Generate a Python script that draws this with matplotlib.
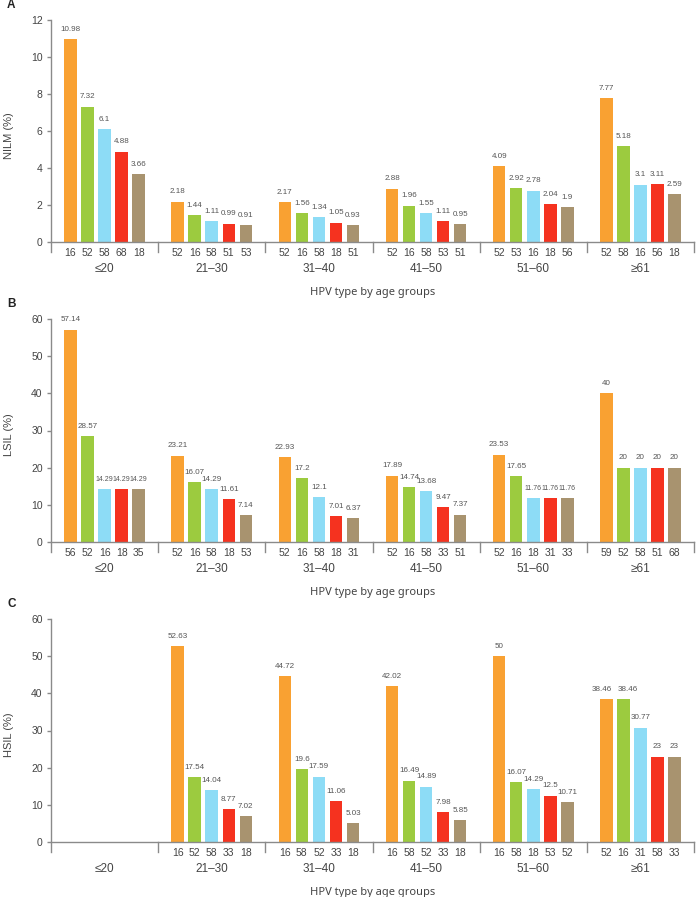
import matplotlib
matplotlib.use('Agg')
import matplotlib.pyplot as plt
import matplotlib.transforms as mtransforms

plt.rcParams['font.family'] = ['Liberation Sans', 'DejaVu Sans']

age_groups = ['≤20', '21–30', '31–40', '41–50', '51–60', '≥61']
bar_colors = ['#F9A132', '#9CCB3F', '#8DDCF6', '#F5321F', '#A8936F']

# NILM
nilm_types = [[16, 52, 58, 68, 18], [52, 16, 58, 51, 53], [52, 16, 58, 18, 51],
              [52, 16, 58, 53, 51], [52, 53, 16, 18, 56], [52, 58, 16, 56, 18]]
nilm_values = [[10.98, 7.32, 6.1, 4.88, 3.66], [2.18, 1.44, 1.11, 0.99, 0.91],
               [2.17, 1.56, 1.34, 1.05, 0.93], [2.88, 1.96, 1.55, 1.11, 0.95],
               [4.09, 2.92, 2.78, 2.04, 1.9], [7.77, 5.18, 3.1, 3.11, 2.59]]

# LSIL
lsil_types = [[56, 52, 16, 18, 35], [52, 16, 58, 18, 53], [52, 16, 58, 18, 31],
              [52, 16, 58, 33, 51], [52, 16, 18, 31, 33], [59, 52, 58, 51, 68]]
lsil_values = [[57.14, 28.57, 14.29, 14.29, 14.29], [23.21, 16.07, 14.29, 11.61, 7.14],
               [22.93, 17.2, 12.1, 7.01, 6.37], [17.89, 14.74, 13.68, 9.47, 7.37],
               [23.53, 17.65, 11.76, 11.76, 11.76], [40, 20, 20, 20, 20]]

# HSIL (no data for <=20)
hsil_types = [[], [16, 52, 58, 33, 18], [16, 58, 52, 33, 18],
              [16, 58, 52, 33, 18], [16, 58, 18, 53, 52], [52, 16, 31, 58, 33]]
hsil_values = [[], [52.63, 17.54, 14.04, 8.77, 7.02], [44.72, 19.6, 17.59, 11.06, 5.03],
               [42.02, 16.49, 14.89, 7.98, 5.85], [50, 16.07, 14.29, 12.5, 10.71],
               [38.46, 38.46, 30.77, 23, 23]]

W, H = 698, 897
fig = plt.figure(figsize=(W / 100, H / 100), dpi=100)

AXIS_COLOR = '#8a8a8a'
TEXT_COLOR = '#444444'
PITCH = 0.159
WIDTH = 0.117


def fmt(v):
    return ('%g' % v)


def draw_panel(top_px, bottom_px, letter, ylabel, ymax, ystep, types, values):
    ax = fig.add_axes([51 / W, 1 - bottom_px / H, 643 / W, (bottom_px - top_px) / H])
    ax.set_xlim(-0.5, len(age_groups) - 0.5)
    ax.set_ylim(0, ymax)
    for s in ['top', 'right', 'left']:
        ax.spines[s].set_visible(False)
    ax.spines['bottom'].set_color(AXIS_COLOR)
    ax.spines['bottom'].set_linewidth(1)

    xticks, xlabels = [], []
    for g, (tps, vals) in enumerate(zip(types, values)):
        n = len(vals)
        for j, (t, v) in enumerate(zip(tps, vals)):
            x = g + (j - (n - 1) / 2) * PITCH
            ax.bar(x, v, width=WIDTH, color=bar_colors[j], linewidth=0)
            label = fmt(v)
            size, dx = 5.8, 0
            if len(label) == 5 and vals.count(v) >= 3:
                size = 5.0
            elif len(label) == 5 and vals.count(v) == 2:
                # spread a tied pair of long labels apart
                dx = 3.5 if (j > 0 and vals[j - 1] == v) else -3.5
            ax.annotate(label, (x, v), xytext=(dx, 4.5), textcoords='offset points',
                        ha='center', va='bottom', fontsize=size, color='#555555')
            xticks.append(x)
            xlabels.append(str(t))
        ax.annotate(age_groups[g], (g, 0), xycoords=('data', 'axes fraction'),
                    xytext=(0, -19.5), textcoords='offset points',
                    ha='center', va='center', fontsize=8.5, color=TEXT_COLOR)

    ax.set_xticks(xticks)
    ax.set_xticklabels(xlabels)
    ax.tick_params(axis='x', length=0, pad=4.5, labelsize=7.5, labelcolor=TEXT_COLOR)
    ax.set_yticks(range(0, ymax + 1, ystep))
    ax.tick_params(axis='y', length=3, width=1, color=AXIS_COLOR, pad=3,
                   labelsize=7.5, labelcolor=TEXT_COLOR)

    # left axis line and group separators reaching below the baseline
    trans = mtransforms.blended_transform_factory(ax.transData, ax.transAxes)
    drop = 10 / (bottom_px - top_px)
    ax.plot([-0.5, -0.5], [-drop, 1], transform=trans, color=AXIS_COLOR,
            lw=1, clip_on=False)
    for g in range(len(age_groups)):
        ax.plot([g + 0.5, g + 0.5], [-drop, 0], transform=trans, color=AXIS_COLOR,
                lw=1, clip_on=False)

    ax.set_ylabel(ylabel, fontsize=8, color=TEXT_COLOR)
    ax.yaxis.set_label_coords(-0.057, 0.48)
    ax.annotate('HPV type by age groups', (0.5, 0), xycoords='axes fraction',
                xytext=(0, -36), textcoords='offset points', ha='center', va='center',
                fontsize=8, color=TEXT_COLOR, family=['Noto Sans', 'DejaVu Sans'])
    fig.text(7 / W, 1 - (top_px - 15) / H, letter, fontsize=8.5, weight='bold',
             ha='left', va='center', color='#222222')
    return ax


draw_panel(20, 242, 'A', 'NILM (%)', 12, 2, nilm_types, nilm_values)
draw_panel(319, 542, 'B', 'LSIL (%)', 60, 10, lsil_types, lsil_values)
draw_panel(619, 842, 'C', 'HSIL (%)', 60, 10, hsil_types, hsil_values)

fig.savefig('out.png', dpi=100)
